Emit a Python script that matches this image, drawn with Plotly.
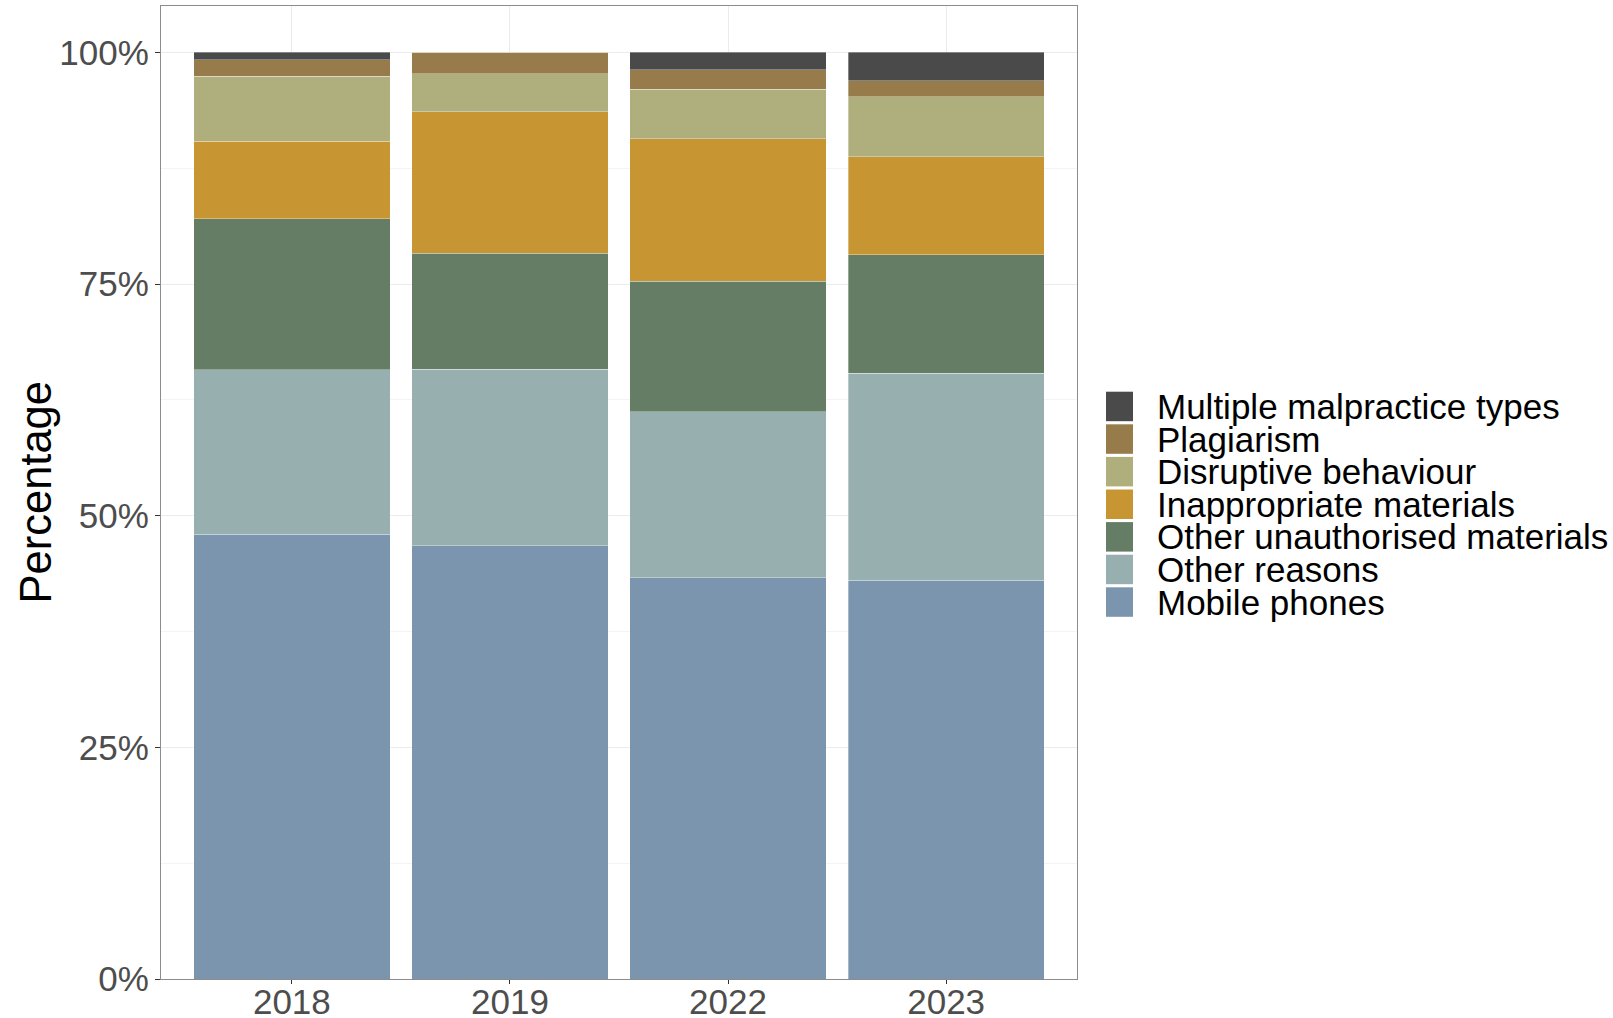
import plotly.graph_objects as go

years = ["2018", "2019", "2022", "2023"]

mobile_phones = [48.0, 46.75, 43.3, 43.05]
other_reasons = [17.76, 19.05, 17.9, 22.3]
other_unauthorised = [16.3, 12.5, 14.1, 12.8]
inappropriate = [8.37, 15.3, 15.4, 10.6]
disruptive = [7.0, 4.1, 5.3, 6.45]
plagiarism = [1.75, 2.3, 2.1, 1.75]
multiple_types = [0.82, 0.0, 1.9, 3.05]

series_names = ["Mobile phones", "Other reasons", "Other unauthorised materials",
                "Inappropriate materials", "Disruptive behaviour", "Plagiarism",
                "Multiple malpractice types"]
series_values = [mobile_phones, other_reasons, other_unauthorised, inappropriate,
                 disruptive, plagiarism, multiple_types]
series_colors = ["#7b95ae", "#97afaf", "#647d64", "#c89533", "#afae7d", "#977b4a", "#4a4a4a"]

y_ticks = [0, 25, 50, 75, 100]
y_tick_labels = ["0%", "25%", "50%", "75%", "100%"]
y_minor = [12.5, 37.5, 62.5, 87.5]

W, H = 1613, 1018
L, R, T, B = 161, 536, 6, 39
FONT = "Liberation Sans, Arial, sans-serif"
TICK_SIZE = 35
LEGEND_SIZE = 35
TITLE_SIZE = 43.5

fig = go.Figure()
for name, vals, col in zip(series_names, series_values, series_colors):
    fig.add_trace(go.Bar(
        x=years, y=vals, name=name, width=0.9,
        marker=dict(color=col, line=dict(color="rgba(255,255,255,0.55)", width=0.6)),
        showlegend=False,
    ))

# manual legend (ggplot style: compact rows)
plot_w = W - L - R
plot_h = H - T - B
def px_to_paper_x(px):
    return (px - L) / plot_w
def px_to_paper_y(py):
    return (H - B - py) / plot_h

shapes = []
annotations = []
row_top0 = 391.7
row_step = 32.6
key_h = 29.5
for i, (name, col) in enumerate(zip(series_names[::-1], series_colors[::-1])):
    top = row_top0 + i * row_step
    shapes.append(dict(type="rect", xref="paper", yref="paper",
                       x0=px_to_paper_x(1106), x1=px_to_paper_x(1133),
                       y0=px_to_paper_y(top + key_h), y1=px_to_paper_y(top),
                       fillcolor=col, line=dict(width=0)))
    annotations.append(dict(xref="paper", yref="paper",
                            x=px_to_paper_x(1155), y=px_to_paper_y(top + key_h / 2),
                            xanchor="left", yanchor="middle", text=name, showarrow=False,
                            font=dict(family=FONT, size=LEGEND_SIZE, color="#000000")))

annotations.append(dict(xref="paper", yref="paper", x=px_to_paper_x(35), y=0.5,
                        xanchor="center", yanchor="middle", text="Percentage",
                        textangle=-90, showarrow=False,
                        font=dict(family=FONT, size=TITLE_SIZE, color="#000000")))

fig.update_layout(
    width=W, height=H, autosize=False,
    margin=dict(l=L, r=R, t=T, b=B, pad=0, autoexpand=False),
    barmode="stack",
    bargap=0.1,
    plot_bgcolor="white", paper_bgcolor="white",
    font=dict(family=FONT, size=TICK_SIZE, color="#4d4d4d"),
    shapes=shapes, annotations=annotations,
    showlegend=False,
)
fig.update_xaxes(
    type="category", range=[-0.6, 3.6], automargin=False,
    showgrid=True, gridcolor="#ebebeb", gridwidth=1.2,
    showline=True, linecolor="#8c8c8c", linewidth=1.2, mirror=True,
    ticks="outside", ticklen=4, tickcolor="#333333", tickwidth=1.2,
    ticklabelstandoff=-12,
    tickfont=dict(family=FONT, size=TICK_SIZE, color="#4d4d4d"),
    zeroline=False,
)
fig.update_yaxes(
    range=[0, 105], automargin=False,
    tickvals=y_ticks, ticktext=y_tick_labels,
    showgrid=True, gridcolor="#ebebeb", gridwidth=1.2,
    minor=dict(tickvals=y_minor, showgrid=True, gridcolor="#f4f4f4", gridwidth=0.6, ticklen=0),
    showline=True, linecolor="#8c8c8c", linewidth=1.2, mirror=True,
    ticks="outside", ticklen=5, tickcolor="#333333", tickwidth=1.2,
    ticklabelstandoff=-1,
    tickfont=dict(family=FONT, size=TICK_SIZE, color="#4d4d4d"),
    zeroline=False,
)

post = ("document.body.style.margin='0';document.body.style.padding='0';"
        "document.body.style.overflow='hidden';"
        "document.documentElement.style.overflow='hidden';")
fig.write_html("out.html", post_script=post,
               config={"responsive": False, "displayModeBar": False})
